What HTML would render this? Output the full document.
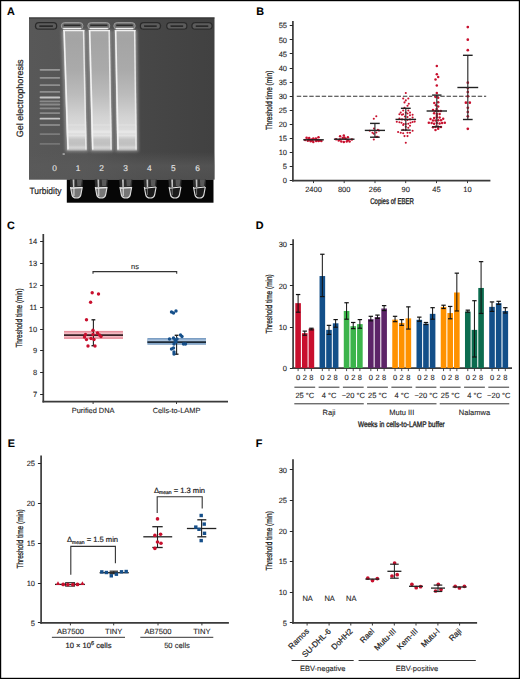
<!DOCTYPE html>
<html><head><meta charset="utf-8"><style>
html,body{margin:0;padding:0;background:#fff;}
body{width:520px;height:679px;overflow:hidden;font-family:"Liberation Sans",sans-serif;}
text{font-variant-ligatures:none;text-rendering:geometricPrecision;}
svg{display:block;}
</style></head><body>
<svg width="520" height="679" viewBox="0 0 520 679" font-family="Liberation Sans, sans-serif">
<rect x="0" y="0" width="520" height="679" fill="#fff"/>
<defs><linearGradient id="gbg" x1="0" x2="1" y1="0" y2="0"><stop offset="0" stop-color="#585858"/><stop offset="0.3" stop-color="#555"/><stop offset="0.6" stop-color="#474747"/><stop offset="1" stop-color="#414141"/></linearGradient><linearGradient id="gbot" x1="0" x2="0" y1="0" y2="1"><stop offset="0" stop-color="#5a5a5a" stop-opacity="0"/><stop offset="0.5" stop-color="#5a5a5a" stop-opacity="0.7"/><stop offset="1" stop-color="#5a5a5a" stop-opacity="0.5"/></linearGradient><linearGradient id="lane" x1="0" x2="0" y1="0" y2="1"><stop offset="0" stop-color="#a6a6a6"/><stop offset="0.08" stop-color="#a4a4a4"/><stop offset="0.33" stop-color="#aaaaaa"/><stop offset="0.54" stop-color="#bcbcbc"/><stop offset="0.73" stop-color="#d4d4d4"/><stop offset="0.79" stop-color="#d8d8d8"/><stop offset="0.85" stop-color="#e0e0e0"/><stop offset="0.88" stop-color="#dcdcdc"/><stop offset="0.91" stop-color="#c4c4c4"/><stop offset="0.945" stop-color="#c0c0c0"/><stop offset="0.98" stop-color="#cecece"/><stop offset="1" stop-color="#b0b0b0"/></linearGradient><filter id="bl1" filterUnits="userSpaceOnUse" x="0" y="0" width="520" height="679"><feGaussianBlur stdDeviation="0.6"/></filter><filter id="bl2" filterUnits="userSpaceOnUse" x="0" y="0" width="520" height="679"><feGaussianBlur stdDeviation="1.6"/></filter><filter id="bl3" filterUnits="userSpaceOnUse" x="0" y="0" width="520" height="679"><feGaussianBlur stdDeviation="0.45"/></filter></defs>
<rect x="29" y="17.5" width="185.5" height="162.1" fill="url(#gbg)"/>
<rect x="29" y="152" width="185.5" height="27.599999999999994" fill="url(#gbot)"/>
<rect x="29" y="17.5" width="185.5" height="0.9" fill="#2e2e2e"/>
<polygon points="61.7,30.0 85.9,30.0 88.3,151.4 65.7,151.4" fill="#a8a8a8" opacity="0.75" filter="url(#bl2)"/>
<polygon points="87.3,30.0 111.5,30.0 113.4,151.4 90.4,151.4" fill="#a8a8a8" opacity="0.75" filter="url(#bl2)"/>
<polygon points="113.3,30.0 137.0,30.0 138.4,151.4 115.7,151.4" fill="#a8a8a8" opacity="0.75" filter="url(#bl2)"/>
<polygon points="63.2,30.0 84.4,30.0 86.8,150.4 67.2,150.4" fill="url(#lane)" filter="url(#bl3)"/>
<line x1="64.10000000000001" y1="30.0" x2="68.10000000000001" y2="149.4" stroke="#f2f2f2" stroke-width="1.6" filter="url(#bl1)"/>
<line x1="83.5" y1="30.0" x2="85.89999999999999" y2="149.4" stroke="#e8e8e8" stroke-width="1.4" filter="url(#bl1)"/>
<line x1="63.2" y1="30.6" x2="84.4" y2="30.6" stroke="#f0f0f0" stroke-width="1.3" filter="url(#bl1)"/>
<rect x="67.356146179402" y="124.2" width="17.937541528239194" height="1.6" fill="#fff" opacity="0.15" filter="url(#bl1)"/>
<rect x="67.57541528239203" y="130.4" width="17.84983388704319" height="2.4" fill="#fff" opacity="0.22" filter="url(#bl1)"/>
<rect x="67.70830564784053" y="134.9" width="17.796677740863785" height="1.4" fill="#fff" opacity="0.18" filter="url(#bl1)"/>
<rect x="68.10365448504983" y="146.3" width="17.63853820598007" height="2.4" fill="#fff" opacity="0.12" filter="url(#bl1)"/>
<polygon points="88.8,30.0 110.0,30.0 111.9,150.4 91.9,150.4" fill="url(#lane)" filter="url(#bl3)"/>
<line x1="89.7" y1="30.0" x2="92.80000000000001" y2="149.4" stroke="#f2f2f2" stroke-width="1.6" filter="url(#bl1)"/>
<line x1="109.1" y1="30.0" x2="111.0" y2="149.4" stroke="#e8e8e8" stroke-width="1.4" filter="url(#bl1)"/>
<line x1="88.8" y1="30.6" x2="110.0" y2="30.6" stroke="#f0f0f0" stroke-width="1.3" filter="url(#bl1)"/>
<rect x="92.24601328903655" y="124.2" width="18.253156146179393" height="1.6" fill="#fff" opacity="0.15" filter="url(#bl1)"/>
<rect x="92.41594684385383" y="130.4" width="18.18737541528239" height="2.4" fill="#fff" opacity="0.22" filter="url(#bl1)"/>
<rect x="92.51893687707641" y="134.9" width="18.147508305647847" height="1.4" fill="#fff" opacity="0.18" filter="url(#bl1)"/>
<rect x="92.82533222591363" y="146.3" width="18.02890365448505" height="2.4" fill="#fff" opacity="0.12" filter="url(#bl1)"/>
<polygon points="114.8,30.0 135.5,30.0 136.9,150.4 117.2,150.4" fill="url(#lane)" filter="url(#bl3)"/>
<line x1="115.7" y1="30.0" x2="118.10000000000001" y2="149.4" stroke="#f2f2f2" stroke-width="1.6" filter="url(#bl1)"/>
<line x1="134.6" y1="30.0" x2="136.0" y2="149.4" stroke="#e8e8e8" stroke-width="1.4" filter="url(#bl1)"/>
<line x1="114.8" y1="30.6" x2="135.5" y2="30.6" stroke="#f0f0f0" stroke-width="1.3" filter="url(#bl1)"/>
<rect x="117.6936877076412" y="124.2" width="17.9109634551495" height="1.6" fill="#fff" opacity="0.15" filter="url(#bl1)"/>
<rect x="117.82524916943522" y="130.4" width="17.85614617940199" height="2.4" fill="#fff" opacity="0.22" filter="url(#bl1)"/>
<rect x="117.90498338870432" y="134.9" width="17.822923588039856" height="1.4" fill="#fff" opacity="0.18" filter="url(#bl1)"/>
<rect x="118.1421926910299" y="146.3" width="17.72408637873754" height="2.4" fill="#fff" opacity="0.12" filter="url(#bl1)"/>
<rect x="35.5" y="22.7" width="21.200000000000003" height="6.4" rx="3.4" fill="#5c5c5c" stroke="#2c2c2c" stroke-width="1.3" filter="url(#bl3)"/>
<line x1="39.3" y1="26.099999999999998" x2="52.9" y2="26.099999999999998" stroke="#222" stroke-width="1.5" filter="url(#bl3)"/>
<rect x="61.300000000000004" y="22.6" width="21.699999999999992" height="6.6000000000000005" rx="3.4" fill="#707070" stroke="#9a9a9a" stroke-width="1.0" filter="url(#bl3)"/>
<line x1="63.7" y1="25.299999999999997" x2="80.6" y2="25.299999999999997" stroke="#2a2a2a" stroke-width="1.6" filter="url(#bl3)"/>
<line x1="63.2" y1="28.5" x2="81.1" y2="28.5" stroke="#f0f0f0" stroke-width="1.3" filter="url(#bl3)"/>
<rect x="87.8" y="22.6" width="22.000000000000004" height="6.6000000000000005" rx="3.4" fill="#707070" stroke="#9a9a9a" stroke-width="1.0" filter="url(#bl3)"/>
<line x1="90.2" y1="25.299999999999997" x2="107.4" y2="25.299999999999997" stroke="#2a2a2a" stroke-width="1.6" filter="url(#bl3)"/>
<line x1="89.7" y1="28.5" x2="107.9" y2="28.5" stroke="#f0f0f0" stroke-width="1.3" filter="url(#bl3)"/>
<rect x="113.8" y="22.6" width="21.40000000000001" height="6.6000000000000005" rx="3.4" fill="#707070" stroke="#9a9a9a" stroke-width="1.0" filter="url(#bl3)"/>
<line x1="116.2" y1="25.299999999999997" x2="132.8" y2="25.299999999999997" stroke="#2a2a2a" stroke-width="1.6" filter="url(#bl3)"/>
<line x1="115.7" y1="28.5" x2="133.3" y2="28.5" stroke="#f0f0f0" stroke-width="1.3" filter="url(#bl3)"/>
<rect x="140.29999999999998" y="22.7" width="20.199999999999996" height="6.4" rx="3.4" fill="#5c5c5c" stroke="#2c2c2c" stroke-width="1.3" filter="url(#bl3)"/>
<line x1="144.1" y1="26.099999999999998" x2="156.7" y2="26.099999999999998" stroke="#222" stroke-width="1.5" filter="url(#bl3)"/>
<rect x="166.7" y="22.7" width="20.199999999999996" height="6.4" rx="3.4" fill="#5c5c5c" stroke="#2c2c2c" stroke-width="1.3" filter="url(#bl3)"/>
<line x1="170.5" y1="26.099999999999998" x2="183.1" y2="26.099999999999998" stroke="#222" stroke-width="1.5" filter="url(#bl3)"/>
<rect x="191.89999999999998" y="22.7" width="20.200000000000024" height="6.4" rx="3.4" fill="#5c5c5c" stroke="#2c2c2c" stroke-width="1.3" filter="url(#bl3)"/>
<line x1="195.7" y1="26.099999999999998" x2="208.3" y2="26.099999999999998" stroke="#222" stroke-width="1.5" filter="url(#bl3)"/>
<rect x="39.6" y="68.89999999999999" width="20.6" height="1.8" rx="0.9" fill="#fff" opacity="0.38" filter="url(#bl1)"/>
<rect x="39.6" y="76.89999999999999" width="20.6" height="1.8" rx="0.9" fill="#fff" opacity="0.35" filter="url(#bl1)"/>
<rect x="39.6" y="84.3" width="20.6" height="1.8" rx="0.9" fill="#fff" opacity="0.33" filter="url(#bl1)"/>
<rect x="39.6" y="91.0" width="20.6" height="1.8" rx="0.9" fill="#fff" opacity="0.33" filter="url(#bl1)"/>
<rect x="39.6" y="96.6" width="20.6" height="1.8" rx="0.9" fill="#fff" opacity="0.65" filter="url(#bl1)"/>
<rect x="39.6" y="100.39999999999999" width="20.6" height="1.8" rx="0.9" fill="#fff" opacity="0.3" filter="url(#bl1)"/>
<rect x="39.6" y="103.6" width="20.6" height="1.8" rx="0.9" fill="#fff" opacity="0.3" filter="url(#bl1)"/>
<rect x="39.6" y="107.39999999999999" width="20.6" height="1.8" rx="0.9" fill="#fff" opacity="0.3" filter="url(#bl1)"/>
<rect x="39.6" y="112.19999999999999" width="20.6" height="1.8" rx="0.9" fill="#fff" opacity="0.3" filter="url(#bl1)"/>
<rect x="39.6" y="117.8" width="20.6" height="1.8" rx="0.9" fill="#fff" opacity="0.65" filter="url(#bl1)"/>
<rect x="39.6" y="124.1" width="20.6" height="1.8" rx="0.9" fill="#fff" opacity="0.28" filter="url(#bl1)"/>
<rect x="39.6" y="133.2" width="20.6" height="1.8" rx="0.9" fill="#fff" opacity="0.22" filter="url(#bl1)"/>
<rect x="39.6" y="143.0" width="20.6" height="1.8" rx="0.9" fill="#fff" opacity="0.18" filter="url(#bl1)"/>
<rect x="62.6" y="153.4" width="2.2" height="1.3" fill="#ddd" opacity="0.8"/>
<text x="54.50" y="170.50" font-size="8.3" text-anchor="middle" fill="#e8e8e8" stroke="#e8e8e8" stroke-width="0.1" font-weight="normal" >0</text>
<text x="78.10" y="170.50" font-size="8.3" text-anchor="middle" fill="#e8e8e8" stroke="#e8e8e8" stroke-width="0.1" font-weight="normal" >1</text>
<text x="101.60" y="170.50" font-size="8.3" text-anchor="middle" fill="#e8e8e8" stroke="#e8e8e8" stroke-width="0.1" font-weight="normal" >2</text>
<text x="125.50" y="170.50" font-size="8.3" text-anchor="middle" fill="#e8e8e8" stroke="#e8e8e8" stroke-width="0.1" font-weight="normal" >3</text>
<text x="149.40" y="170.50" font-size="8.3" text-anchor="middle" fill="#e8e8e8" stroke="#e8e8e8" stroke-width="0.1" font-weight="normal" >4</text>
<text x="173.30" y="170.50" font-size="8.3" text-anchor="middle" fill="#e8e8e8" stroke="#e8e8e8" stroke-width="0.1" font-weight="normal" >5</text>
<text x="197.50" y="170.50" font-size="8.3" text-anchor="middle" fill="#e8e8e8" stroke="#e8e8e8" stroke-width="0.1" font-weight="normal" >6</text>
<rect x="66.8" y="179.6" width="146.7" height="23.1" fill="#060606"/>
<polygon points="69.80000000000001,179.6 83.0,179.6 82.4,187.5 70.4,187.5" fill="#2e2e2e" filter="url(#bl3)"/>
<polygon points="72.60000000000001,179.6 74.4,179.6 74.4,187.5 73.0,187.5" fill="#e6e6e6" opacity="0.8" filter="url(#bl3)"/>
<polygon points="76.9,179.6 81.9,179.6 80.9,186 77.4,186" fill="#777" opacity="0.6" filter="url(#bl3)"/>
<path d="M70.5,187.0 L72.0,195.0 Q72.80000000000001,198.0 76.4,198.0 Q80.0,198.0 80.80000000000001,195.0 L82.30000000000001,187.0 Z" fill="#767676" filter="url(#bl3)"/>
<path d="M70.5,187.0 L72.0,195.0 Q72.80000000000001,198.0 76.4,198.0 Q80.0,198.0 80.80000000000001,195.0 L82.30000000000001,187.0" fill="none" stroke="#dcdcdc" stroke-width="1.15" filter="url(#bl3)"/>
<line x1="70.80000000000001" y1="188.2" x2="82.0" y2="187.6" stroke="#f4f4f4" stroke-width="1.2" filter="url(#bl3)"/>
<rect x="73.2" y="188" width="1.4" height="8" fill="#e4e4e4" opacity="0.7" filter="url(#bl3)"/>
<polygon points="94.60000000000001,179.6 107.8,179.6 107.2,187.5 95.2,187.5" fill="#2e2e2e" filter="url(#bl3)"/>
<polygon points="97.4,179.6 99.2,179.6 99.2,187.5 97.8,187.5" fill="#e6e6e6" opacity="0.8" filter="url(#bl3)"/>
<polygon points="101.7,179.6 106.7,179.6 105.7,186 102.2,186" fill="#777" opacity="0.6" filter="url(#bl3)"/>
<path d="M95.3,187.0 L96.8,195.0 Q97.60000000000001,198.0 101.2,198.0 Q104.8,198.0 105.60000000000001,195.0 L107.10000000000001,187.0 Z" fill="#767676" filter="url(#bl3)"/>
<path d="M95.3,187.0 L96.8,195.0 Q97.60000000000001,198.0 101.2,198.0 Q104.8,198.0 105.60000000000001,195.0 L107.10000000000001,187.0" fill="none" stroke="#dcdcdc" stroke-width="1.15" filter="url(#bl3)"/>
<line x1="95.60000000000001" y1="188.2" x2="106.8" y2="187.6" stroke="#f4f4f4" stroke-width="1.2" filter="url(#bl3)"/>
<rect x="98.0" y="188" width="1.4" height="8" fill="#e4e4e4" opacity="0.7" filter="url(#bl3)"/>
<polygon points="119.2,179.6 132.4,179.6 131.8,187.5 119.8,187.5" fill="#2e2e2e" filter="url(#bl3)"/>
<polygon points="122.0,179.6 123.8,179.6 123.8,187.5 122.39999999999999,187.5" fill="#e6e6e6" opacity="0.8" filter="url(#bl3)"/>
<polygon points="126.3,179.6 131.3,179.6 130.3,186 126.8,186" fill="#777" opacity="0.6" filter="url(#bl3)"/>
<path d="M119.89999999999999,187.0 L121.39999999999999,195.0 Q122.2,198.0 125.8,198.0 Q129.4,198.0 130.2,195.0 L131.7,187.0 Z" fill="#767676" filter="url(#bl3)"/>
<path d="M119.89999999999999,187.0 L121.39999999999999,195.0 Q122.2,198.0 125.8,198.0 Q129.4,198.0 130.2,195.0 L131.7,187.0" fill="none" stroke="#dcdcdc" stroke-width="1.15" filter="url(#bl3)"/>
<line x1="120.2" y1="188.2" x2="131.4" y2="187.6" stroke="#f4f4f4" stroke-width="1.2" filter="url(#bl3)"/>
<rect x="122.6" y="188" width="1.4" height="8" fill="#e4e4e4" opacity="0.7" filter="url(#bl3)"/>
<polygon points="143.6,179.6 156.79999999999998,179.6 156.2,187.5 144.2,187.5" fill="#2e2e2e" filter="url(#bl3)"/>
<polygon points="146.39999999999998,179.6 148.2,179.6 148.2,187.5 146.79999999999998,187.5" fill="#e6e6e6" opacity="0.8" filter="url(#bl3)"/>
<polygon points="150.7,179.6 155.7,179.6 154.7,186 151.2,186" fill="#777" opacity="0.6" filter="url(#bl3)"/>
<path d="M144.29999999999998,187.0 L145.79999999999998,195.0 Q146.6,198.0 150.2,198.0 Q153.79999999999998,198.0 154.6,195.0 L156.1,187.0 Z" fill="#1c1c1c" filter="url(#bl3)"/>
<path d="M144.29999999999998,187.0 L145.79999999999998,195.0 Q146.6,198.0 150.2,198.0 Q153.79999999999998,198.0 154.6,195.0 L156.1,187.0" fill="none" stroke="#dcdcdc" stroke-width="1.15" filter="url(#bl3)"/>
<line x1="144.6" y1="188.2" x2="155.79999999999998" y2="187.0" stroke="#eee" stroke-width="1.1" filter="url(#bl3)"/>
<rect x="146.89999999999998" y="188" width="1.0" height="7" fill="#bbb" opacity="0.55" filter="url(#bl3)"/>
<polygon points="168.4,179.6 181.6,179.6 181.0,187.5 169.0,187.5" fill="#2e2e2e" filter="url(#bl3)"/>
<polygon points="171.2,179.6 173.0,179.6 173.0,187.5 171.6,187.5" fill="#e6e6e6" opacity="0.8" filter="url(#bl3)"/>
<polygon points="175.5,179.6 180.5,179.6 179.5,186 176.0,186" fill="#777" opacity="0.6" filter="url(#bl3)"/>
<path d="M169.1,187.0 L170.6,195.0 Q171.4,198.0 175.0,198.0 Q178.6,198.0 179.4,195.0 L180.9,187.0 Z" fill="#1c1c1c" filter="url(#bl3)"/>
<path d="M169.1,187.0 L170.6,195.0 Q171.4,198.0 175.0,198.0 Q178.6,198.0 179.4,195.0 L180.9,187.0" fill="none" stroke="#dcdcdc" stroke-width="1.15" filter="url(#bl3)"/>
<line x1="169.4" y1="188.2" x2="180.6" y2="187.0" stroke="#eee" stroke-width="1.1" filter="url(#bl3)"/>
<rect x="171.7" y="188" width="1.0" height="7" fill="#bbb" opacity="0.55" filter="url(#bl3)"/>
<polygon points="192.8,179.6 206.0,179.6 205.4,187.5 193.4,187.5" fill="#2e2e2e" filter="url(#bl3)"/>
<polygon points="195.6,179.6 197.4,179.6 197.4,187.5 196.0,187.5" fill="#e6e6e6" opacity="0.8" filter="url(#bl3)"/>
<polygon points="199.9,179.6 204.9,179.6 203.9,186 200.4,186" fill="#777" opacity="0.6" filter="url(#bl3)"/>
<path d="M193.5,187.0 L195.0,195.0 Q195.8,198.0 199.4,198.0 Q203.0,198.0 203.8,195.0 L205.3,187.0 Z" fill="#1c1c1c" filter="url(#bl3)"/>
<path d="M193.5,187.0 L195.0,195.0 Q195.8,198.0 199.4,198.0 Q203.0,198.0 203.8,195.0 L205.3,187.0" fill="none" stroke="#dcdcdc" stroke-width="1.15" filter="url(#bl3)"/>
<line x1="193.8" y1="188.2" x2="205.0" y2="187.0" stroke="#eee" stroke-width="1.1" filter="url(#bl3)"/>
<rect x="196.1" y="188" width="1.0" height="7" fill="#bbb" opacity="0.55" filter="url(#bl3)"/>
<text x="29.4" y="193.6" font-size="9.2" fill="#222" stroke="#222" stroke-width="0.2" textLength="32.1" lengthAdjust="spacingAndGlyphs">Turbidity</text>
<g transform="translate(22.7,98.4) rotate(-90)"><text x="0" y="0" font-size="9.2" text-anchor="middle" fill="#222" stroke="#222" stroke-width="0.2" textLength="77.6" lengthAdjust="spacingAndGlyphs">Gel electrophoresis</text></g>
<line x1="292.90" y1="20.90" x2="292.90" y2="181.45" stroke="#3a3a3a" stroke-width="1.7" />
<line x1="289.70" y1="180.50" x2="292.90" y2="180.50" stroke="#262626" stroke-width="1.05" />
<text x="287.00" y="183.20" font-size="7.5" text-anchor="end" fill="#222" stroke="#222" stroke-width="0.1" font-weight="normal" >0</text>
<line x1="289.70" y1="166.50" x2="292.90" y2="166.50" stroke="#262626" stroke-width="1.05" />
<text x="287.00" y="169.13" font-size="7.5" text-anchor="end" fill="#222" stroke="#222" stroke-width="0.1" font-weight="normal" >5</text>
<line x1="289.70" y1="152.50" x2="292.90" y2="152.50" stroke="#262626" stroke-width="1.05" />
<text x="287.00" y="155.06" font-size="7.5" text-anchor="end" fill="#222" stroke="#222" stroke-width="0.1" font-weight="normal" >10</text>
<line x1="289.70" y1="138.50" x2="292.90" y2="138.50" stroke="#262626" stroke-width="1.05" />
<text x="287.00" y="140.99" font-size="7.5" text-anchor="end" fill="#222" stroke="#222" stroke-width="0.1" font-weight="normal" >15</text>
<line x1="289.70" y1="124.50" x2="292.90" y2="124.50" stroke="#262626" stroke-width="1.05" />
<text x="287.00" y="126.92" font-size="7.5" text-anchor="end" fill="#222" stroke="#222" stroke-width="0.1" font-weight="normal" >20</text>
<line x1="289.70" y1="110.50" x2="292.90" y2="110.50" stroke="#262626" stroke-width="1.05" />
<text x="287.00" y="112.85" font-size="7.5" text-anchor="end" fill="#222" stroke="#222" stroke-width="0.1" font-weight="normal" >25</text>
<line x1="289.70" y1="96.50" x2="292.90" y2="96.50" stroke="#262626" stroke-width="1.05" />
<text x="287.00" y="98.78" font-size="7.5" text-anchor="end" fill="#222" stroke="#222" stroke-width="0.1" font-weight="normal" >30</text>
<line x1="289.70" y1="82.50" x2="292.90" y2="82.50" stroke="#262626" stroke-width="1.05" />
<text x="287.00" y="84.71" font-size="7.5" text-anchor="end" fill="#222" stroke="#222" stroke-width="0.1" font-weight="normal" >35</text>
<line x1="289.70" y1="68.50" x2="292.90" y2="68.50" stroke="#262626" stroke-width="1.05" />
<text x="287.00" y="70.64" font-size="7.5" text-anchor="end" fill="#222" stroke="#222" stroke-width="0.1" font-weight="normal" >40</text>
<line x1="289.70" y1="53.50" x2="292.90" y2="53.50" stroke="#262626" stroke-width="1.05" />
<text x="287.00" y="56.57" font-size="7.5" text-anchor="end" fill="#222" stroke="#222" stroke-width="0.1" font-weight="normal" >45</text>
<line x1="289.70" y1="39.50" x2="292.90" y2="39.50" stroke="#262626" stroke-width="1.05" />
<text x="287.00" y="42.50" font-size="7.5" text-anchor="end" fill="#222" stroke="#222" stroke-width="0.1" font-weight="normal" >50</text>
<line x1="289.70" y1="25.50" x2="292.90" y2="25.50" stroke="#262626" stroke-width="1.05" />
<text x="287.00" y="28.43" font-size="7.5" text-anchor="end" fill="#222" stroke="#222" stroke-width="0.1" font-weight="normal" >55</text>
<line x1="292.10" y1="180.60" x2="490.40" y2="180.60" stroke="#3a3a3a" stroke-width="1.7" />
<line x1="313.50" y1="180.60" x2="313.50" y2="183.10" stroke="#3a3a3a" stroke-width="1" />
<text x="313.50" y="191.80" font-size="7.5" text-anchor="middle" fill="#222" stroke="#222" stroke-width="0.1" font-weight="normal" >2400</text>
<line x1="344.20" y1="180.60" x2="344.20" y2="183.10" stroke="#3a3a3a" stroke-width="1" />
<text x="344.20" y="191.80" font-size="7.5" text-anchor="middle" fill="#222" stroke="#222" stroke-width="0.1" font-weight="normal" >800</text>
<line x1="375.00" y1="180.60" x2="375.00" y2="183.10" stroke="#3a3a3a" stroke-width="1" />
<text x="375.00" y="191.80" font-size="7.5" text-anchor="middle" fill="#222" stroke="#222" stroke-width="0.1" font-weight="normal" >266</text>
<line x1="405.70" y1="180.60" x2="405.70" y2="183.10" stroke="#3a3a3a" stroke-width="1" />
<text x="405.70" y="191.80" font-size="7.5" text-anchor="middle" fill="#222" stroke="#222" stroke-width="0.1" font-weight="normal" >90</text>
<line x1="436.50" y1="180.60" x2="436.50" y2="183.10" stroke="#3a3a3a" stroke-width="1" />
<text x="436.50" y="191.80" font-size="7.5" text-anchor="middle" fill="#222" stroke="#222" stroke-width="0.1" font-weight="normal" >45</text>
<line x1="467.50" y1="180.60" x2="467.50" y2="183.10" stroke="#3a3a3a" stroke-width="1" />
<text x="467.50" y="191.80" font-size="7.5" text-anchor="middle" fill="#222" stroke="#222" stroke-width="0.1" font-weight="normal" >10</text>
<g transform="translate(392.00,203.80) scale(0.0720,0.1)"><text x="0" y="0" font-size="84.0" text-anchor="middle" fill="#222" stroke="#222" stroke-width="3.2">Copies of EBER</text></g>
<g transform="translate(269.10,100.30) rotate(-90) scale(0.0725,0.1)"><text x="0" y="0" font-size="89.0" text-anchor="middle" fill="#222" stroke="#222" stroke-width="2.8" dominant-baseline="central">Threshold time (min)</text></g>
<line x1="296.8" y1="96.25" x2="486.2" y2="96.25" stroke="#333" stroke-width="1.2" stroke-dasharray="4.4,1.84"/>
<circle cx="306.6" cy="137.8" r="1.25" fill="#c8102e"/>
<circle cx="309.2" cy="138.1" r="1.25" fill="#c8102e"/>
<circle cx="313.3" cy="138.4" r="1.25" fill="#c8102e"/>
<circle cx="315.9" cy="138.5" r="1.25" fill="#c8102e"/>
<circle cx="318.5" cy="137.2" r="1.25" fill="#c8102e"/>
<circle cx="305.2" cy="140.1" r="1.25" fill="#c8102e"/>
<circle cx="307.8" cy="140.7" r="1.25" fill="#c8102e"/>
<circle cx="310.7" cy="141.3" r="1.25" fill="#c8102e"/>
<circle cx="313.3" cy="142.1" r="1.25" fill="#c8102e"/>
<circle cx="316.2" cy="141.0" r="1.25" fill="#c8102e"/>
<circle cx="318.5" cy="141.1" r="1.25" fill="#c8102e"/>
<circle cx="321.4" cy="141.0" r="1.25" fill="#c8102e"/>
<circle cx="315.3" cy="139.5" r="1.25" fill="#c8102e"/>
<circle cx="311.5" cy="139.5" r="1.25" fill="#c8102e"/>
<circle cx="308.4" cy="139.2" r="1.25" fill="#c8102e"/>
<circle cx="312.4" cy="140.6" r="1.25" fill="#c8102e"/>
<circle cx="317.2" cy="139.9" r="1.25" fill="#c8102e"/>
<circle cx="319.8" cy="140.4" r="1.25" fill="#c8102e"/>
<circle cx="309.8" cy="139.8" r="1.25" fill="#c8102e"/>
<line x1="303.20" y1="139.80" x2="323.80" y2="139.80" stroke="#222" stroke-width="1.4" />
<circle cx="340.1" cy="136.3" r="1.25" fill="#c8102e"/>
<circle cx="343.8" cy="135.5" r="1.25" fill="#c8102e"/>
<circle cx="347.9" cy="137.2" r="1.25" fill="#c8102e"/>
<circle cx="342.7" cy="138.1" r="1.25" fill="#c8102e"/>
<circle cx="345.6" cy="138.7" r="1.25" fill="#c8102e"/>
<circle cx="336.1" cy="139.2" r="1.25" fill="#c8102e"/>
<circle cx="351.9" cy="139.5" r="1.25" fill="#c8102e"/>
<circle cx="338.7" cy="140.4" r="1.25" fill="#c8102e"/>
<circle cx="341.3" cy="141.5" r="1.25" fill="#c8102e"/>
<circle cx="343.8" cy="142.1" r="1.25" fill="#c8102e"/>
<circle cx="346.7" cy="141.5" r="1.25" fill="#c8102e"/>
<circle cx="349.6" cy="141.5" r="1.25" fill="#c8102e"/>
<circle cx="344.4" cy="137.5" r="1.25" fill="#c8102e"/>
<circle cx="340.0" cy="139.6" r="1.25" fill="#c8102e"/>
<circle cx="347.8" cy="140.2" r="1.25" fill="#c8102e"/>
<line x1="333.90" y1="139.20" x2="354.50" y2="139.20" stroke="#222" stroke-width="1.4" />
<circle cx="376.3" cy="116.3" r="1.05" fill="#c8102e"/>
<circle cx="373.8" cy="118.7" r="1.05" fill="#c8102e"/>
<circle cx="374" cy="128.6" r="1.05" fill="#c8102e"/>
<circle cx="369.8" cy="130.8" r="1.05" fill="#c8102e"/>
<circle cx="377.9" cy="129.8" r="1.05" fill="#c8102e"/>
<circle cx="379" cy="130.6" r="1.05" fill="#c8102e"/>
<circle cx="372.5" cy="132.7" r="1.05" fill="#c8102e"/>
<circle cx="373.8" cy="133.8" r="1.05" fill="#c8102e"/>
<circle cx="376.3" cy="132.5" r="1.05" fill="#c8102e"/>
<circle cx="376.3" cy="136.9" r="1.05" fill="#c8102e"/>
<circle cx="377.6" cy="136.7" r="1.05" fill="#c8102e"/>
<circle cx="373.8" cy="139.5" r="1.05" fill="#c8102e"/>
<line x1="364.80" y1="130.40" x2="385.00" y2="130.40" stroke="#222" stroke-width="1.4" />
<line x1="374.90" y1="123.40" x2="374.90" y2="137.20" stroke="#333" stroke-width="1.2" />
<line x1="370.05" y1="123.40" x2="379.75" y2="123.40" stroke="#222" stroke-width="1.4" />
<line x1="370.05" y1="137.20" x2="379.75" y2="137.20" stroke="#222" stroke-width="1.4" />
<circle cx="405.8" cy="93" r="1.05" fill="#c8102e"/>
<circle cx="403.2" cy="98.5" r="1.05" fill="#c8102e"/>
<circle cx="408.3" cy="98.5" r="1.05" fill="#c8102e"/>
<circle cx="405.8" cy="100.4" r="1.05" fill="#c8102e"/>
<circle cx="404.5" cy="102.4" r="1.05" fill="#c8102e"/>
<circle cx="408.8" cy="103.7" r="1.05" fill="#c8102e"/>
<circle cx="407.5" cy="105.8" r="1.05" fill="#c8102e"/>
<circle cx="404.5" cy="107.9" r="1.05" fill="#c8102e"/>
<circle cx="403.2" cy="110.5" r="1.05" fill="#c8102e"/>
<circle cx="408.3" cy="110.5" r="1.05" fill="#c8102e"/>
<circle cx="400.7" cy="112.6" r="1.05" fill="#c8102e"/>
<circle cx="405.8" cy="112.6" r="1.05" fill="#c8102e"/>
<circle cx="410" cy="112.6" r="1.05" fill="#c8102e"/>
<circle cx="399.4" cy="114.3" r="1.05" fill="#c8102e"/>
<circle cx="402" cy="114.7" r="1.05" fill="#c8102e"/>
<circle cx="403.2" cy="114.3" r="1.05" fill="#c8102e"/>
<circle cx="407.5" cy="113.5" r="1.05" fill="#c8102e"/>
<circle cx="410" cy="115.2" r="1.05" fill="#c8102e"/>
<circle cx="412.6" cy="114.7" r="1.05" fill="#c8102e"/>
<circle cx="404.9" cy="116.5" r="1.05" fill="#c8102e"/>
<circle cx="407.5" cy="117.1" r="1.05" fill="#c8102e"/>
<circle cx="412.6" cy="117.5" r="1.05" fill="#c8102e"/>
<circle cx="399.4" cy="118.6" r="1.05" fill="#c8102e"/>
<circle cx="402" cy="119.4" r="1.05" fill="#c8102e"/>
<circle cx="404.9" cy="119.7" r="1.05" fill="#c8102e"/>
<circle cx="407.5" cy="120" r="1.05" fill="#c8102e"/>
<circle cx="410" cy="119.4" r="1.05" fill="#c8102e"/>
<circle cx="396.8" cy="121.7" r="1.05" fill="#c8102e"/>
<circle cx="399.4" cy="122.3" r="1.05" fill="#c8102e"/>
<circle cx="401.5" cy="122.8" r="1.05" fill="#c8102e"/>
<circle cx="403.7" cy="124.1" r="1.05" fill="#c8102e"/>
<circle cx="405.8" cy="124" r="1.05" fill="#c8102e"/>
<circle cx="408.3" cy="123.7" r="1.05" fill="#c8102e"/>
<circle cx="410.5" cy="122.8" r="1.05" fill="#c8102e"/>
<circle cx="412.6" cy="122" r="1.05" fill="#c8102e"/>
<circle cx="414.7" cy="121.6" r="1.05" fill="#c8102e"/>
<circle cx="403.2" cy="125" r="1.05" fill="#c8102e"/>
<circle cx="405.8" cy="126.7" r="1.05" fill="#c8102e"/>
<circle cx="410" cy="125.8" r="1.05" fill="#c8102e"/>
<circle cx="408.3" cy="127.7" r="1.05" fill="#c8102e"/>
<circle cx="403.2" cy="129.7" r="1.05" fill="#c8102e"/>
<circle cx="405.8" cy="130.1" r="1.05" fill="#c8102e"/>
<circle cx="412.6" cy="130.8" r="1.05" fill="#c8102e"/>
<circle cx="398.1" cy="132" r="1.05" fill="#c8102e"/>
<circle cx="400.7" cy="132.7" r="1.05" fill="#c8102e"/>
<circle cx="403.2" cy="133.3" r="1.05" fill="#c8102e"/>
<circle cx="407.5" cy="132.7" r="1.05" fill="#c8102e"/>
<circle cx="410" cy="132.7" r="1.05" fill="#c8102e"/>
<circle cx="404.5" cy="136.1" r="1.05" fill="#c8102e"/>
<circle cx="407.5" cy="136.1" r="1.05" fill="#c8102e"/>
<circle cx="405.8" cy="142.7" r="1.05" fill="#c8102e"/>
<line x1="395.50" y1="119.40" x2="416.10" y2="119.40" stroke="#222" stroke-width="1.4" />
<line x1="405.80" y1="108.30" x2="405.80" y2="130.10" stroke="#333" stroke-width="1.2" />
<line x1="400.90" y1="108.30" x2="410.70" y2="108.30" stroke="#222" stroke-width="1.4" />
<line x1="400.90" y1="130.10" x2="410.70" y2="130.10" stroke="#222" stroke-width="1.4" />
<circle cx="436.8" cy="66.1" r="1.25" fill="#c8102e"/>
<circle cx="436.8" cy="74.3" r="1.25" fill="#c8102e"/>
<circle cx="438.2" cy="77.1" r="1.25" fill="#c8102e"/>
<circle cx="435.5" cy="79.6" r="1.25" fill="#c8102e"/>
<circle cx="436.8" cy="85.6" r="1.25" fill="#c8102e"/>
<circle cx="436.8" cy="93.1" r="1.25" fill="#c8102e"/>
<circle cx="435.5" cy="97" r="1.25" fill="#c8102e"/>
<circle cx="438.2" cy="97.7" r="1.25" fill="#c8102e"/>
<circle cx="434.3" cy="103" r="1.25" fill="#c8102e"/>
<circle cx="438.2" cy="102.2" r="1.25" fill="#c8102e"/>
<circle cx="436" cy="105.3" r="1.25" fill="#c8102e"/>
<circle cx="438.2" cy="106.4" r="1.25" fill="#c8102e"/>
<circle cx="436.6" cy="109.1" r="1.25" fill="#c8102e"/>
<circle cx="433" cy="109.9" r="1.25" fill="#c8102e"/>
<circle cx="435.5" cy="111" r="1.25" fill="#c8102e"/>
<circle cx="438.2" cy="111" r="1.25" fill="#c8102e"/>
<circle cx="440.8" cy="111" r="1.25" fill="#c8102e"/>
<circle cx="434.1" cy="113.2" r="1.25" fill="#c8102e"/>
<circle cx="436.8" cy="114.1" r="1.25" fill="#c8102e"/>
<circle cx="439.6" cy="114.1" r="1.25" fill="#c8102e"/>
<circle cx="436.8" cy="116.1" r="1.25" fill="#c8102e"/>
<circle cx="434.1" cy="118" r="1.25" fill="#c8102e"/>
<circle cx="436.8" cy="117.6" r="1.25" fill="#c8102e"/>
<circle cx="439.6" cy="117.6" r="1.25" fill="#c8102e"/>
<circle cx="430.5" cy="119" r="1.25" fill="#c8102e"/>
<circle cx="443.2" cy="118.7" r="1.25" fill="#c8102e"/>
<circle cx="433" cy="120.5" r="1.25" fill="#c8102e"/>
<circle cx="435.5" cy="120.5" r="1.25" fill="#c8102e"/>
<circle cx="438.2" cy="120.2" r="1.25" fill="#c8102e"/>
<circle cx="441" cy="120.2" r="1.25" fill="#c8102e"/>
<circle cx="428.8" cy="122.7" r="1.25" fill="#c8102e"/>
<circle cx="431.6" cy="123.1" r="1.25" fill="#c8102e"/>
<circle cx="434.1" cy="123.8" r="1.25" fill="#c8102e"/>
<circle cx="436.8" cy="123.1" r="1.25" fill="#c8102e"/>
<circle cx="439.6" cy="123.5" r="1.25" fill="#c8102e"/>
<circle cx="442.1" cy="122.9" r="1.25" fill="#c8102e"/>
<circle cx="444.8" cy="122.7" r="1.25" fill="#c8102e"/>
<circle cx="433" cy="127.3" r="1.25" fill="#c8102e"/>
<circle cx="435.5" cy="126.8" r="1.25" fill="#c8102e"/>
<circle cx="438.2" cy="126.8" r="1.25" fill="#c8102e"/>
<circle cx="441" cy="127.1" r="1.25" fill="#c8102e"/>
<circle cx="435.5" cy="130.1" r="1.25" fill="#c8102e"/>
<circle cx="438.2" cy="128.7" r="1.25" fill="#c8102e"/>
<line x1="426.60" y1="111.00" x2="447.00" y2="111.00" stroke="#222" stroke-width="1.4" />
<line x1="436.80" y1="95.10" x2="436.80" y2="126.80" stroke="#333" stroke-width="1.2" />
<line x1="432.10" y1="95.10" x2="441.50" y2="95.10" stroke="#222" stroke-width="1.4" />
<line x1="432.10" y1="126.80" x2="441.50" y2="126.80" stroke="#222" stroke-width="1.4" />
<circle cx="467.8" cy="27.1" r="1.35" fill="#c8102e"/>
<circle cx="467.8" cy="39.7" r="1.35" fill="#c8102e"/>
<circle cx="467.8" cy="50.2" r="1.35" fill="#c8102e"/>
<circle cx="467.8" cy="82.7" r="1.35" fill="#c8102e"/>
<circle cx="467.8" cy="88.1" r="1.35" fill="#c8102e"/>
<circle cx="467.8" cy="92" r="1.35" fill="#c8102e"/>
<circle cx="467.8" cy="96.3" r="1.35" fill="#c8102e"/>
<circle cx="465.9" cy="102.7" r="1.35" fill="#c8102e"/>
<circle cx="469.8" cy="102.7" r="1.35" fill="#c8102e"/>
<circle cx="467.8" cy="107.8" r="1.35" fill="#c8102e"/>
<circle cx="467.8" cy="112" r="1.35" fill="#c8102e"/>
<circle cx="467.8" cy="116.3" r="1.35" fill="#c8102e"/>
<circle cx="467.8" cy="128.8" r="1.35" fill="#c8102e"/>
<line x1="457.40" y1="87.50" x2="478.20" y2="87.50" stroke="#222" stroke-width="1.4" />
<line x1="467.80" y1="55.30" x2="467.80" y2="119.50" stroke="#333" stroke-width="1.2" />
<line x1="462.95" y1="55.30" x2="472.65" y2="55.30" stroke="#222" stroke-width="1.4" />
<line x1="462.95" y1="119.50" x2="472.65" y2="119.50" stroke="#222" stroke-width="1.4" />
<line x1="43.30" y1="234.00" x2="43.30" y2="402.45" stroke="#3a3a3a" stroke-width="1.7" />
<line x1="40.10" y1="394.50" x2="43.30" y2="394.50" stroke="#262626" stroke-width="1.05" />
<text x="37.20" y="397.00" font-size="7.5" text-anchor="end" fill="#222" stroke="#222" stroke-width="0.1" font-weight="normal" >7</text>
<line x1="40.10" y1="372.50" x2="43.30" y2="372.50" stroke="#262626" stroke-width="1.05" />
<text x="37.20" y="375.20" font-size="7.5" text-anchor="end" fill="#222" stroke="#222" stroke-width="0.1" font-weight="normal" >8</text>
<line x1="40.10" y1="350.50" x2="43.30" y2="350.50" stroke="#262626" stroke-width="1.05" />
<text x="37.20" y="353.40" font-size="7.5" text-anchor="end" fill="#222" stroke="#222" stroke-width="0.1" font-weight="normal" >9</text>
<line x1="40.10" y1="329.50" x2="43.30" y2="329.50" stroke="#262626" stroke-width="1.05" />
<text x="37.20" y="331.60" font-size="7.5" text-anchor="end" fill="#222" stroke="#222" stroke-width="0.1" font-weight="normal" >10</text>
<line x1="40.10" y1="307.50" x2="43.30" y2="307.50" stroke="#262626" stroke-width="1.05" />
<text x="37.20" y="309.80" font-size="7.5" text-anchor="end" fill="#222" stroke="#222" stroke-width="0.1" font-weight="normal" >11</text>
<line x1="40.10" y1="285.50" x2="43.30" y2="285.50" stroke="#262626" stroke-width="1.05" />
<text x="37.20" y="288.00" font-size="7.5" text-anchor="end" fill="#222" stroke="#222" stroke-width="0.1" font-weight="normal" >12</text>
<line x1="40.10" y1="263.50" x2="43.30" y2="263.50" stroke="#262626" stroke-width="1.05" />
<text x="37.20" y="266.20" font-size="7.5" text-anchor="end" fill="#222" stroke="#222" stroke-width="0.1" font-weight="normal" >13</text>
<line x1="40.10" y1="241.50" x2="43.30" y2="241.50" stroke="#262626" stroke-width="1.05" />
<text x="37.20" y="244.40" font-size="7.5" text-anchor="end" fill="#222" stroke="#222" stroke-width="0.1" font-weight="normal" >14</text>
<line x1="42.50" y1="401.60" x2="228.00" y2="401.60" stroke="#3a3a3a" stroke-width="1.7" />
<line x1="93.10" y1="401.60" x2="93.10" y2="404.00" stroke="#3a3a3a" stroke-width="1" />
<text x="93.10" y="413.00" font-size="7.4" text-anchor="middle" fill="#222" stroke="#222" stroke-width="0.1" font-weight="normal" >Purified DNA</text>
<line x1="176.50" y1="401.60" x2="176.50" y2="404.00" stroke="#3a3a3a" stroke-width="1" />
<text x="176.50" y="413.00" font-size="7.4" text-anchor="middle" fill="#222" stroke="#222" stroke-width="0.1" font-weight="normal" >Cells-to-LAMP</text>
<g transform="translate(19.00,318.00) rotate(-90) scale(0.0725,0.1)"><text x="0" y="0" font-size="89.0" text-anchor="middle" fill="#222" stroke="#222" stroke-width="2.8" dominant-baseline="central">Threshold time (min)</text></g>
<rect x="64" y="330.9" width="59" height="8" fill="#e8909d"/>
<rect x="64" y="332.4" width="59" height="5" fill="#f2b9c2"/>
<rect x="147.4" y="338.1" width="58.6" height="6.6" fill="#6e94bd"/>
<rect x="147.4" y="339.4" width="58.6" height="4.0" fill="#a9c2dc"/>
<line x1="64.00" y1="335.10" x2="123.00" y2="335.10" stroke="#3a2226" stroke-width="1.8" />
<line x1="147.40" y1="342.10" x2="206.00" y2="342.10" stroke="#1d2a38" stroke-width="1.8" />
<line x1="93.40" y1="319.80" x2="93.40" y2="345.70" stroke="#222" stroke-width="1.1" />
<line x1="91.50" y1="319.80" x2="95.30" y2="319.80" stroke="#222" stroke-width="1.4" />
<line x1="91.50" y1="345.70" x2="95.30" y2="345.70" stroke="#222" stroke-width="1.4" />
<line x1="176.60" y1="335.30" x2="176.60" y2="354.20" stroke="#222" stroke-width="1.1" />
<line x1="174.70" y1="335.30" x2="178.50" y2="335.30" stroke="#222" stroke-width="1.4" />
<line x1="174.70" y1="354.20" x2="178.50" y2="354.20" stroke="#222" stroke-width="1.4" />
<circle cx="92.2" cy="292.8" r="1.7" fill="#c8102e"/>
<circle cx="98.5" cy="294" r="1.7" fill="#c8102e"/>
<circle cx="90.6" cy="302.3" r="1.7" fill="#c8102e"/>
<circle cx="86.5" cy="319.8" r="1.7" fill="#c8102e"/>
<circle cx="93" cy="330.2" r="1.7" fill="#c8102e"/>
<circle cx="85.5" cy="334.5" r="1.7" fill="#c8102e"/>
<circle cx="93" cy="334.5" r="1.7" fill="#c8102e"/>
<circle cx="97.5" cy="333" r="1.7" fill="#c8102e"/>
<circle cx="99.5" cy="335" r="1.7" fill="#c8102e"/>
<circle cx="101" cy="336.6" r="1.7" fill="#c8102e"/>
<circle cx="86.5" cy="339.6" r="1.7" fill="#c8102e"/>
<circle cx="91" cy="338.5" r="1.7" fill="#c8102e"/>
<circle cx="94" cy="339.5" r="1.7" fill="#c8102e"/>
<circle cx="88" cy="346" r="1.7" fill="#c8102e"/>
<circle cx="95" cy="346" r="1.7" fill="#c8102e"/>
<circle cx="84.5" cy="337" r="1.7" fill="#c8102e"/>
<circle cx="171.5" cy="312" r="1.7" fill="#154f8a"/>
<circle cx="173.5" cy="313" r="1.7" fill="#154f8a"/>
<circle cx="176" cy="311" r="1.7" fill="#154f8a"/>
<circle cx="180.5" cy="335" r="1.7" fill="#154f8a"/>
<circle cx="182" cy="336.5" r="1.7" fill="#154f8a"/>
<circle cx="169.5" cy="339" r="1.7" fill="#154f8a"/>
<circle cx="173.5" cy="338" r="1.7" fill="#154f8a"/>
<circle cx="175" cy="340" r="1.7" fill="#154f8a"/>
<circle cx="176" cy="342" r="1.7" fill="#154f8a"/>
<circle cx="174" cy="344" r="1.7" fill="#154f8a"/>
<circle cx="183.5" cy="344" r="1.7" fill="#154f8a"/>
<circle cx="185.5" cy="344" r="1.7" fill="#154f8a"/>
<circle cx="171.5" cy="349" r="1.7" fill="#154f8a"/>
<circle cx="173.5" cy="348" r="1.7" fill="#154f8a"/>
<circle cx="174" cy="352" r="1.7" fill="#154f8a"/>
<circle cx="174" cy="354" r="1.7" fill="#154f8a"/>
<circle cx="177" cy="339" r="1.7" fill="#154f8a"/>
<path d="M93,273.8 L93,271.6 L176.7,271.6 L176.7,273.8" fill="none" stroke="#333" stroke-width="1.1"/>
<text x="135.00" y="268.60" font-size="7.5" text-anchor="middle" fill="#222" stroke="#222" stroke-width="0.1" font-weight="normal" >ns</text>
<line x1="293.10" y1="239.30" x2="293.10" y2="368.95" stroke="#3a3a3a" stroke-width="1.7" />
<line x1="289.90" y1="368.50" x2="293.10" y2="368.50" stroke="#262626" stroke-width="1.05" />
<text x="287.00" y="370.70" font-size="7.5" text-anchor="end" fill="#222" stroke="#222" stroke-width="0.1" font-weight="normal" >0</text>
<line x1="289.90" y1="327.50" x2="293.10" y2="327.50" stroke="#262626" stroke-width="1.05" />
<text x="287.00" y="329.60" font-size="7.5" text-anchor="end" fill="#222" stroke="#222" stroke-width="0.1" font-weight="normal" >10</text>
<line x1="289.90" y1="285.50" x2="293.10" y2="285.50" stroke="#262626" stroke-width="1.05" />
<text x="287.00" y="288.50" font-size="7.5" text-anchor="end" fill="#222" stroke="#222" stroke-width="0.1" font-weight="normal" >20</text>
<line x1="289.90" y1="244.50" x2="293.10" y2="244.50" stroke="#262626" stroke-width="1.05" />
<text x="287.00" y="247.40" font-size="7.5" text-anchor="end" fill="#222" stroke="#222" stroke-width="0.1" font-weight="normal" >30</text>
<line x1="292.30" y1="368.10" x2="512.00" y2="368.10" stroke="#3a3a3a" stroke-width="1.7" />
<g transform="translate(269.00,303.90) rotate(-90) scale(0.0725,0.1)"><text x="0" y="0" font-size="89.0" text-anchor="middle" fill="#222" stroke="#222" stroke-width="2.8" dominant-baseline="central">Threshold time (min)</text></g>
<rect x="295.30" y="303.16" width="5.6" height="64.94" fill="#c8102e"/>
<line x1="298.10" y1="294.53" x2="298.10" y2="312.20" stroke="#111" stroke-width="1.0" />
<line x1="295.90" y1="294.53" x2="300.30" y2="294.53" stroke="#111" stroke-width="1.2" />
<line x1="295.90" y1="312.20" x2="300.30" y2="312.20" stroke="#111" stroke-width="1.2" />
<line x1="298.10" y1="368.10" x2="298.10" y2="371.10" stroke="#3a3a3a" stroke-width="0.9" />
<text x="298.10" y="380.20" font-size="7.5" text-anchor="middle" fill="#222" stroke="#222" stroke-width="0.1" font-weight="normal" >0</text>
<rect x="301.95" y="333.17" width="5.6" height="34.94" fill="#c8102e"/>
<line x1="304.75" y1="331.11" x2="304.75" y2="335.22" stroke="#111" stroke-width="1.0" />
<line x1="302.55" y1="331.11" x2="306.95" y2="331.11" stroke="#111" stroke-width="1.2" />
<line x1="302.55" y1="335.22" x2="306.95" y2="335.22" stroke="#111" stroke-width="1.2" />
<line x1="304.75" y1="368.10" x2="304.75" y2="371.10" stroke="#3a3a3a" stroke-width="0.9" />
<text x="304.75" y="380.20" font-size="7.5" text-anchor="middle" fill="#222" stroke="#222" stroke-width="0.1" font-weight="normal" >2</text>
<rect x="308.60" y="328.64" width="5.6" height="39.46" fill="#c8102e"/>
<line x1="311.40" y1="328.23" x2="311.40" y2="329.88" stroke="#111" stroke-width="1.0" />
<line x1="309.20" y1="328.23" x2="313.60" y2="328.23" stroke="#111" stroke-width="1.2" />
<line x1="309.20" y1="329.88" x2="313.60" y2="329.88" stroke="#111" stroke-width="1.2" />
<line x1="311.40" y1="368.10" x2="311.40" y2="371.10" stroke="#3a3a3a" stroke-width="0.9" />
<text x="311.40" y="380.20" font-size="7.5" text-anchor="middle" fill="#222" stroke="#222" stroke-width="0.1" font-weight="normal" >8</text>
<line x1="294.40" y1="387.20" x2="315.20" y2="387.20" stroke="#333" stroke-width="1.0" />
<text x="304.80" y="398.30" font-size="7.5" text-anchor="middle" fill="#222" stroke="#222" stroke-width="0.1" font-weight="normal" >25 °C</text>
<rect x="319.54" y="276.04" width="5.6" height="92.06" fill="#134f89"/>
<line x1="322.34" y1="254.25" x2="322.34" y2="296.59" stroke="#111" stroke-width="1.0" />
<line x1="320.14" y1="254.25" x2="324.54" y2="254.25" stroke="#111" stroke-width="1.2" />
<line x1="320.14" y1="296.59" x2="324.54" y2="296.59" stroke="#111" stroke-width="1.2" />
<line x1="322.34" y1="368.10" x2="322.34" y2="371.10" stroke="#3a3a3a" stroke-width="0.9" />
<text x="322.34" y="380.20" font-size="7.5" text-anchor="middle" fill="#222" stroke="#222" stroke-width="0.1" font-weight="normal" >0</text>
<rect x="326.19" y="329.88" width="5.6" height="38.22" fill="#134f89"/>
<line x1="328.99" y1="325.36" x2="328.99" y2="334.40" stroke="#111" stroke-width="1.0" />
<line x1="326.79" y1="325.36" x2="331.19" y2="325.36" stroke="#111" stroke-width="1.2" />
<line x1="326.79" y1="334.40" x2="331.19" y2="334.40" stroke="#111" stroke-width="1.2" />
<line x1="328.99" y1="368.10" x2="328.99" y2="371.10" stroke="#3a3a3a" stroke-width="0.9" />
<text x="328.99" y="380.20" font-size="7.5" text-anchor="middle" fill="#222" stroke="#222" stroke-width="0.1" font-weight="normal" >2</text>
<rect x="332.84" y="323.30" width="5.6" height="44.80" fill="#134f89"/>
<line x1="335.64" y1="319.60" x2="335.64" y2="327.21" stroke="#111" stroke-width="1.0" />
<line x1="333.44" y1="319.60" x2="337.84" y2="319.60" stroke="#111" stroke-width="1.2" />
<line x1="333.44" y1="327.21" x2="337.84" y2="327.21" stroke="#111" stroke-width="1.2" />
<line x1="335.64" y1="368.10" x2="335.64" y2="371.10" stroke="#3a3a3a" stroke-width="0.9" />
<text x="335.64" y="380.20" font-size="7.5" text-anchor="middle" fill="#222" stroke="#222" stroke-width="0.1" font-weight="normal" >8</text>
<line x1="318.64" y1="387.20" x2="339.44" y2="387.20" stroke="#333" stroke-width="1.0" />
<text x="329.04" y="398.30" font-size="7.5" text-anchor="middle" fill="#222" stroke="#222" stroke-width="0.1" font-weight="normal" >4 °C</text>
<rect x="343.78" y="310.97" width="5.6" height="57.13" fill="#3cb44b"/>
<line x1="346.58" y1="302.75" x2="346.58" y2="319.19" stroke="#111" stroke-width="1.0" />
<line x1="344.38" y1="302.75" x2="348.78" y2="302.75" stroke="#111" stroke-width="1.2" />
<line x1="344.38" y1="319.19" x2="348.78" y2="319.19" stroke="#111" stroke-width="1.2" />
<line x1="346.58" y1="368.10" x2="346.58" y2="371.10" stroke="#3a3a3a" stroke-width="0.9" />
<text x="346.58" y="380.20" font-size="7.5" text-anchor="middle" fill="#222" stroke="#222" stroke-width="0.1" font-weight="normal" >0</text>
<rect x="350.43" y="326.18" width="5.6" height="41.92" fill="#3cb44b"/>
<line x1="353.23" y1="322.48" x2="353.23" y2="328.64" stroke="#111" stroke-width="1.0" />
<line x1="351.03" y1="322.48" x2="355.43" y2="322.48" stroke="#111" stroke-width="1.2" />
<line x1="351.03" y1="328.64" x2="355.43" y2="328.64" stroke="#111" stroke-width="1.2" />
<line x1="353.23" y1="368.10" x2="353.23" y2="371.10" stroke="#3a3a3a" stroke-width="0.9" />
<text x="353.23" y="380.20" font-size="7.5" text-anchor="middle" fill="#222" stroke="#222" stroke-width="0.1" font-weight="normal" >2</text>
<rect x="357.08" y="324.12" width="5.6" height="43.98" fill="#3cb44b"/>
<line x1="359.88" y1="319.60" x2="359.88" y2="328.23" stroke="#111" stroke-width="1.0" />
<line x1="357.68" y1="319.60" x2="362.08" y2="319.60" stroke="#111" stroke-width="1.2" />
<line x1="357.68" y1="328.23" x2="362.08" y2="328.23" stroke="#111" stroke-width="1.2" />
<line x1="359.88" y1="368.10" x2="359.88" y2="371.10" stroke="#3a3a3a" stroke-width="0.9" />
<text x="359.88" y="380.20" font-size="7.5" text-anchor="middle" fill="#222" stroke="#222" stroke-width="0.1" font-weight="normal" >8</text>
<line x1="342.88" y1="387.20" x2="363.68" y2="387.20" stroke="#333" stroke-width="1.0" />
<text x="353.28" y="398.30" font-size="7.5" text-anchor="middle" fill="#222" stroke="#222" stroke-width="0.1" font-weight="normal" >−20 °C</text>
<rect x="368.02" y="319.19" width="5.6" height="48.91" fill="#5c2468"/>
<line x1="370.82" y1="316.31" x2="370.82" y2="320.84" stroke="#111" stroke-width="1.0" />
<line x1="368.62" y1="316.31" x2="373.02" y2="316.31" stroke="#111" stroke-width="1.2" />
<line x1="368.62" y1="320.84" x2="373.02" y2="320.84" stroke="#111" stroke-width="1.2" />
<line x1="370.82" y1="368.10" x2="370.82" y2="371.10" stroke="#3a3a3a" stroke-width="0.9" />
<text x="370.82" y="380.20" font-size="7.5" text-anchor="middle" fill="#222" stroke="#222" stroke-width="0.1" font-weight="normal" >0</text>
<rect x="374.67" y="317.14" width="5.6" height="50.96" fill="#5c2468"/>
<line x1="377.47" y1="315.08" x2="377.47" y2="318.37" stroke="#111" stroke-width="1.0" />
<line x1="375.27" y1="315.08" x2="379.67" y2="315.08" stroke="#111" stroke-width="1.2" />
<line x1="375.27" y1="318.37" x2="379.67" y2="318.37" stroke="#111" stroke-width="1.2" />
<line x1="377.47" y1="368.10" x2="377.47" y2="371.10" stroke="#3a3a3a" stroke-width="0.9" />
<text x="377.47" y="380.20" font-size="7.5" text-anchor="middle" fill="#222" stroke="#222" stroke-width="0.1" font-weight="normal" >2</text>
<rect x="381.32" y="308.50" width="5.6" height="59.60" fill="#5c2468"/>
<line x1="384.12" y1="305.63" x2="384.12" y2="310.56" stroke="#111" stroke-width="1.0" />
<line x1="381.92" y1="305.63" x2="386.32" y2="305.63" stroke="#111" stroke-width="1.2" />
<line x1="381.92" y1="310.56" x2="386.32" y2="310.56" stroke="#111" stroke-width="1.2" />
<line x1="384.12" y1="368.10" x2="384.12" y2="371.10" stroke="#3a3a3a" stroke-width="0.9" />
<text x="384.12" y="380.20" font-size="7.5" text-anchor="middle" fill="#222" stroke="#222" stroke-width="0.1" font-weight="normal" >8</text>
<line x1="367.12" y1="387.20" x2="387.92" y2="387.20" stroke="#333" stroke-width="1.0" />
<text x="377.52" y="398.30" font-size="7.5" text-anchor="middle" fill="#222" stroke="#222" stroke-width="0.1" font-weight="normal" >25 °C</text>
<rect x="392.26" y="319.60" width="5.6" height="48.50" fill="#ff9200"/>
<line x1="395.06" y1="316.31" x2="395.06" y2="321.66" stroke="#111" stroke-width="1.0" />
<line x1="392.86" y1="316.31" x2="397.26" y2="316.31" stroke="#111" stroke-width="1.2" />
<line x1="392.86" y1="321.66" x2="397.26" y2="321.66" stroke="#111" stroke-width="1.2" />
<line x1="395.06" y1="368.10" x2="395.06" y2="371.10" stroke="#3a3a3a" stroke-width="0.9" />
<text x="395.06" y="380.20" font-size="7.5" text-anchor="middle" fill="#222" stroke="#222" stroke-width="0.1" font-weight="normal" >0</text>
<rect x="398.91" y="322.89" width="5.6" height="45.21" fill="#ff9200"/>
<line x1="401.71" y1="319.60" x2="401.71" y2="325.36" stroke="#111" stroke-width="1.0" />
<line x1="399.51" y1="319.60" x2="403.91" y2="319.60" stroke="#111" stroke-width="1.2" />
<line x1="399.51" y1="325.36" x2="403.91" y2="325.36" stroke="#111" stroke-width="1.2" />
<line x1="401.71" y1="368.10" x2="401.71" y2="371.10" stroke="#3a3a3a" stroke-width="0.9" />
<text x="401.71" y="380.20" font-size="7.5" text-anchor="middle" fill="#222" stroke="#222" stroke-width="0.1" font-weight="normal" >2</text>
<rect x="405.56" y="318.37" width="5.6" height="49.73" fill="#ff9200"/>
<line x1="408.36" y1="306.86" x2="408.36" y2="329.06" stroke="#111" stroke-width="1.0" />
<line x1="406.16" y1="306.86" x2="410.56" y2="306.86" stroke="#111" stroke-width="1.2" />
<line x1="406.16" y1="329.06" x2="410.56" y2="329.06" stroke="#111" stroke-width="1.2" />
<line x1="408.36" y1="368.10" x2="408.36" y2="371.10" stroke="#3a3a3a" stroke-width="0.9" />
<text x="408.36" y="380.20" font-size="7.5" text-anchor="middle" fill="#222" stroke="#222" stroke-width="0.1" font-weight="normal" >8</text>
<line x1="391.36" y1="387.20" x2="412.16" y2="387.20" stroke="#333" stroke-width="1.0" />
<text x="401.76" y="398.30" font-size="7.5" text-anchor="middle" fill="#222" stroke="#222" stroke-width="0.1" font-weight="normal" >4 °C</text>
<rect x="416.50" y="319.81" width="5.6" height="48.29" fill="#134f89"/>
<line x1="419.30" y1="317.14" x2="419.30" y2="321.25" stroke="#111" stroke-width="1.0" />
<line x1="417.10" y1="317.14" x2="421.50" y2="317.14" stroke="#111" stroke-width="1.2" />
<line x1="417.10" y1="321.25" x2="421.50" y2="321.25" stroke="#111" stroke-width="1.2" />
<line x1="419.30" y1="368.10" x2="419.30" y2="371.10" stroke="#3a3a3a" stroke-width="0.9" />
<text x="419.30" y="380.20" font-size="7.5" text-anchor="middle" fill="#222" stroke="#222" stroke-width="0.1" font-weight="normal" >0</text>
<rect x="423.15" y="323.71" width="5.6" height="44.39" fill="#134f89"/>
<line x1="425.95" y1="322.48" x2="425.95" y2="324.53" stroke="#111" stroke-width="1.0" />
<line x1="423.75" y1="322.48" x2="428.15" y2="322.48" stroke="#111" stroke-width="1.2" />
<line x1="423.75" y1="324.53" x2="428.15" y2="324.53" stroke="#111" stroke-width="1.2" />
<line x1="425.95" y1="368.10" x2="425.95" y2="371.10" stroke="#3a3a3a" stroke-width="0.9" />
<text x="425.95" y="380.20" font-size="7.5" text-anchor="middle" fill="#222" stroke="#222" stroke-width="0.1" font-weight="normal" >2</text>
<rect x="429.80" y="313.85" width="5.6" height="54.25" fill="#134f89"/>
<line x1="432.60" y1="307.68" x2="432.60" y2="319.19" stroke="#111" stroke-width="1.0" />
<line x1="430.40" y1="307.68" x2="434.80" y2="307.68" stroke="#111" stroke-width="1.2" />
<line x1="430.40" y1="319.19" x2="434.80" y2="319.19" stroke="#111" stroke-width="1.2" />
<line x1="432.60" y1="368.10" x2="432.60" y2="371.10" stroke="#3a3a3a" stroke-width="0.9" />
<text x="432.60" y="380.20" font-size="7.5" text-anchor="middle" fill="#222" stroke="#222" stroke-width="0.1" font-weight="normal" >8</text>
<line x1="415.60" y1="387.20" x2="436.40" y2="387.20" stroke="#333" stroke-width="1.0" />
<text x="426.00" y="398.30" font-size="7.5" text-anchor="middle" fill="#222" stroke="#222" stroke-width="0.1" font-weight="normal" >−20 °C</text>
<rect x="440.74" y="306.86" width="5.6" height="61.24" fill="#ff9200"/>
<line x1="443.54" y1="305.22" x2="443.54" y2="308.50" stroke="#111" stroke-width="1.0" />
<line x1="441.34" y1="305.22" x2="445.74" y2="305.22" stroke="#111" stroke-width="1.2" />
<line x1="441.34" y1="308.50" x2="445.74" y2="308.50" stroke="#111" stroke-width="1.2" />
<line x1="443.54" y1="368.10" x2="443.54" y2="371.10" stroke="#3a3a3a" stroke-width="0.9" />
<text x="443.54" y="380.20" font-size="7.5" text-anchor="middle" fill="#222" stroke="#222" stroke-width="0.1" font-weight="normal" >0</text>
<rect x="447.39" y="313.03" width="5.6" height="55.07" fill="#ff9200"/>
<line x1="450.19" y1="306.45" x2="450.19" y2="318.78" stroke="#111" stroke-width="1.0" />
<line x1="447.99" y1="306.45" x2="452.39" y2="306.45" stroke="#111" stroke-width="1.2" />
<line x1="447.99" y1="318.78" x2="452.39" y2="318.78" stroke="#111" stroke-width="1.2" />
<line x1="450.19" y1="368.10" x2="450.19" y2="371.10" stroke="#3a3a3a" stroke-width="0.9" />
<text x="450.19" y="380.20" font-size="7.5" text-anchor="middle" fill="#222" stroke="#222" stroke-width="0.1" font-weight="normal" >2</text>
<rect x="454.04" y="292.48" width="5.6" height="75.62" fill="#ff9200"/>
<line x1="456.84" y1="273.16" x2="456.84" y2="310.97" stroke="#111" stroke-width="1.0" />
<line x1="454.64" y1="273.16" x2="459.04" y2="273.16" stroke="#111" stroke-width="1.2" />
<line x1="454.64" y1="310.97" x2="459.04" y2="310.97" stroke="#111" stroke-width="1.2" />
<line x1="456.84" y1="368.10" x2="456.84" y2="371.10" stroke="#3a3a3a" stroke-width="0.9" />
<text x="456.84" y="380.20" font-size="7.5" text-anchor="middle" fill="#222" stroke="#222" stroke-width="0.1" font-weight="normal" >8</text>
<line x1="439.84" y1="387.20" x2="460.64" y2="387.20" stroke="#333" stroke-width="1.0" />
<text x="450.24" y="398.30" font-size="7.5" text-anchor="middle" fill="#222" stroke="#222" stroke-width="0.1" font-weight="normal" >25 °C</text>
<rect x="464.98" y="311.59" width="5.6" height="56.51" fill="#0c6c4f"/>
<line x1="467.78" y1="310.15" x2="467.78" y2="312.20" stroke="#111" stroke-width="1.0" />
<line x1="465.58" y1="310.15" x2="469.98" y2="310.15" stroke="#111" stroke-width="1.2" />
<line x1="465.58" y1="312.20" x2="469.98" y2="312.20" stroke="#111" stroke-width="1.2" />
<line x1="467.78" y1="368.10" x2="467.78" y2="371.10" stroke="#3a3a3a" stroke-width="0.9" />
<text x="467.78" y="380.20" font-size="7.5" text-anchor="middle" fill="#222" stroke="#222" stroke-width="0.1" font-weight="normal" >0</text>
<rect x="471.63" y="329.88" width="5.6" height="38.22" fill="#0c6c4f"/>
<line x1="474.43" y1="300.70" x2="474.43" y2="357.00" stroke="#111" stroke-width="1.0" />
<line x1="472.23" y1="300.70" x2="476.63" y2="300.70" stroke="#111" stroke-width="1.2" />
<line x1="472.23" y1="357.00" x2="476.63" y2="357.00" stroke="#111" stroke-width="1.2" />
<line x1="474.43" y1="368.10" x2="474.43" y2="371.10" stroke="#3a3a3a" stroke-width="0.9" />
<text x="474.43" y="380.20" font-size="7.5" text-anchor="middle" fill="#222" stroke="#222" stroke-width="0.1" font-weight="normal" >2</text>
<rect x="478.28" y="287.96" width="5.6" height="80.14" fill="#0c6c4f"/>
<line x1="481.08" y1="261.65" x2="481.08" y2="313.44" stroke="#111" stroke-width="1.0" />
<line x1="478.88" y1="261.65" x2="483.28" y2="261.65" stroke="#111" stroke-width="1.2" />
<line x1="478.88" y1="313.44" x2="483.28" y2="313.44" stroke="#111" stroke-width="1.2" />
<line x1="481.08" y1="368.10" x2="481.08" y2="371.10" stroke="#3a3a3a" stroke-width="0.9" />
<text x="481.08" y="380.20" font-size="7.5" text-anchor="middle" fill="#222" stroke="#222" stroke-width="0.1" font-weight="normal" >8</text>
<line x1="464.08" y1="387.20" x2="484.88" y2="387.20" stroke="#333" stroke-width="1.0" />
<text x="474.48" y="398.30" font-size="7.5" text-anchor="middle" fill="#222" stroke="#222" stroke-width="0.1" font-weight="normal" >4 °C</text>
<rect x="489.22" y="306.86" width="5.6" height="61.24" fill="#134f89"/>
<line x1="492.02" y1="301.93" x2="492.02" y2="311.38" stroke="#111" stroke-width="1.0" />
<line x1="489.82" y1="301.93" x2="494.22" y2="301.93" stroke="#111" stroke-width="1.2" />
<line x1="489.82" y1="311.38" x2="494.22" y2="311.38" stroke="#111" stroke-width="1.2" />
<line x1="492.02" y1="368.10" x2="492.02" y2="371.10" stroke="#3a3a3a" stroke-width="0.9" />
<text x="492.02" y="380.20" font-size="7.5" text-anchor="middle" fill="#222" stroke="#222" stroke-width="0.1" font-weight="normal" >0</text>
<rect x="495.87" y="303.16" width="5.6" height="64.94" fill="#134f89"/>
<line x1="498.67" y1="301.31" x2="498.67" y2="304.40" stroke="#111" stroke-width="1.0" />
<line x1="496.47" y1="301.31" x2="500.87" y2="301.31" stroke="#111" stroke-width="1.2" />
<line x1="496.47" y1="304.40" x2="500.87" y2="304.40" stroke="#111" stroke-width="1.2" />
<line x1="498.67" y1="368.10" x2="498.67" y2="371.10" stroke="#3a3a3a" stroke-width="0.9" />
<text x="498.67" y="380.20" font-size="7.5" text-anchor="middle" fill="#222" stroke="#222" stroke-width="0.1" font-weight="normal" >2</text>
<rect x="502.52" y="310.97" width="5.6" height="57.13" fill="#134f89"/>
<line x1="505.32" y1="307.68" x2="505.32" y2="313.03" stroke="#111" stroke-width="1.0" />
<line x1="503.12" y1="307.68" x2="507.52" y2="307.68" stroke="#111" stroke-width="1.2" />
<line x1="503.12" y1="313.03" x2="507.52" y2="313.03" stroke="#111" stroke-width="1.2" />
<line x1="505.32" y1="368.10" x2="505.32" y2="371.10" stroke="#3a3a3a" stroke-width="0.9" />
<text x="505.32" y="380.20" font-size="7.5" text-anchor="middle" fill="#222" stroke="#222" stroke-width="0.1" font-weight="normal" >8</text>
<line x1="488.32" y1="387.20" x2="509.12" y2="387.20" stroke="#333" stroke-width="1.0" />
<text x="498.72" y="398.30" font-size="7.5" text-anchor="middle" fill="#222" stroke="#222" stroke-width="0.1" font-weight="normal" >−20 °C</text>
<line x1="294.30" y1="403.80" x2="363.78" y2="403.80" stroke="#333" stroke-width="1.0" />
<text x="329.04" y="414.60" font-size="7.5" text-anchor="middle" fill="#222" stroke="#222" stroke-width="0.1" font-weight="normal" >Raji</text>
<line x1="367.02" y1="403.80" x2="436.50" y2="403.80" stroke="#333" stroke-width="1.0" />
<text x="401.76" y="414.60" font-size="7.5" text-anchor="middle" fill="#222" stroke="#222" stroke-width="0.1" font-weight="normal" >Mutu III</text>
<line x1="439.74" y1="403.80" x2="509.22" y2="403.80" stroke="#333" stroke-width="1.0" />
<text x="474.48" y="414.60" font-size="7.5" text-anchor="middle" fill="#222" stroke="#222" stroke-width="0.1" font-weight="normal" >Nalamwa</text>
<g transform="translate(401.30,426.90) scale(0.0790,0.1)"><text x="0" y="0" font-size="82.0" text-anchor="middle" fill="#222" stroke="#222" stroke-width="3.2">Weeks in cells-to-LAMP buffer</text></g>
<line x1="41.10" y1="455.50" x2="41.10" y2="623.75" stroke="#3a3a3a" stroke-width="1.7" />
<line x1="37.90" y1="622.50" x2="41.10" y2="622.50" stroke="#262626" stroke-width="1.05" />
<text x="35.00" y="625.50" font-size="7.5" text-anchor="end" fill="#222" stroke="#222" stroke-width="0.1" font-weight="normal" >5</text>
<line x1="37.90" y1="583.50" x2="41.10" y2="583.50" stroke="#262626" stroke-width="1.05" />
<text x="35.00" y="585.73" font-size="7.5" text-anchor="end" fill="#222" stroke="#222" stroke-width="0.1" font-weight="normal" >10</text>
<line x1="37.90" y1="543.50" x2="41.10" y2="543.50" stroke="#262626" stroke-width="1.05" />
<text x="35.00" y="545.95" font-size="7.5" text-anchor="end" fill="#222" stroke="#222" stroke-width="0.1" font-weight="normal" >15</text>
<line x1="37.90" y1="503.50" x2="41.10" y2="503.50" stroke="#262626" stroke-width="1.05" />
<text x="35.00" y="506.18" font-size="7.5" text-anchor="end" fill="#222" stroke="#222" stroke-width="0.1" font-weight="normal" >20</text>
<line x1="37.90" y1="463.50" x2="41.10" y2="463.50" stroke="#262626" stroke-width="1.05" />
<text x="35.00" y="466.40" font-size="7.5" text-anchor="end" fill="#222" stroke="#222" stroke-width="0.1" font-weight="normal" >25</text>
<line x1="40.30" y1="622.90" x2="228.90" y2="622.90" stroke="#3a3a3a" stroke-width="1.7" />
<g transform="translate(19.90,538.90) rotate(-90) scale(0.0725,0.1)"><text x="0" y="0" font-size="89.0" text-anchor="middle" fill="#222" stroke="#222" stroke-width="2.8" dominant-baseline="central">Threshold time (min)</text></g>
<line x1="70.40" y1="622.90" x2="70.40" y2="625.40" stroke="#3a3a3a" stroke-width="1" />
<text x="70.40" y="634.30" font-size="7.6" text-anchor="middle" fill="#222" stroke="#222" stroke-width="0.1" font-weight="normal" >AB7500</text>
<line x1="113.70" y1="622.90" x2="113.70" y2="625.40" stroke="#3a3a3a" stroke-width="1" />
<text x="113.70" y="634.30" font-size="7.6" text-anchor="middle" fill="#222" stroke="#222" stroke-width="0.1" font-weight="normal" >TINY</text>
<line x1="158.00" y1="622.90" x2="158.00" y2="625.40" stroke="#3a3a3a" stroke-width="1" />
<text x="158.00" y="634.30" font-size="7.6" text-anchor="middle" fill="#222" stroke="#222" stroke-width="0.1" font-weight="normal" >AB7500</text>
<line x1="201.90" y1="622.90" x2="201.90" y2="625.40" stroke="#3a3a3a" stroke-width="1" />
<text x="201.90" y="634.30" font-size="7.6" text-anchor="middle" fill="#222" stroke="#222" stroke-width="0.1" font-weight="normal" >TINY</text>
<line x1="51.90" y1="637.30" x2="125.00" y2="637.30" stroke="#333" stroke-width="1.0" />
<line x1="140.30" y1="637.30" x2="213.30" y2="637.30" stroke="#333" stroke-width="1.0" />
<text x="88.5" y="648" font-size="7.6" text-anchor="middle" fill="#222" stroke="#222" stroke-width="0.2">10 × 10<tspan font-size="5.6" dy="-3">6</tspan><tspan dy="3"> cells</tspan></text>
<text x="177.00" y="648.00" font-size="7.6" text-anchor="middle" fill="#222" stroke="#222" stroke-width="0.1" font-weight="normal" >50 cells</text>
<path d="M70.8,574.7 L70.8,546.4 L115.4,546.4 L115.4,563.2" fill="none" stroke="#333" stroke-width="1.1"/>
<path d="M157.2,512.9 L157.2,496.8 L202.2,496.8 L202.2,508.6" fill="none" stroke="#333" stroke-width="1.1"/>
<text x="92.5" y="541.8" font-size="7.6" text-anchor="middle" fill="#222" stroke="#222" stroke-width="0.2">Δ<tspan font-size="5" dy="1.8">mean</tspan><tspan dy="-1.8"> = 1.5 min</tspan></text>
<text x="179.5" y="492.5" font-size="7.6" text-anchor="middle" fill="#222" stroke="#222" stroke-width="0.2">Δ<tspan font-size="5" dy="1.8">mean</tspan><tspan dy="-1.8"> = 1.3 min</tspan></text>
<line x1="55.00" y1="584.40" x2="85.00" y2="584.40" stroke="#222" stroke-width="1.3" />
<rect x="65.6" y="582.6" width="9" height="3.6" fill="none" stroke="#222" stroke-width="0.9"/>
<path d="M55.9,584.9 L58,581.1999999999999 L60.1,584.9 Z" fill="#c8102e"/>
<circle cx="63.2" cy="584.4" r="1.85" fill="#c8102e"/>
<circle cx="67.8" cy="584.6" r="1.85" fill="#c8102e"/>
<circle cx="72.8" cy="584.6" r="1.85" fill="#c8102e"/>
<circle cx="77.5" cy="584.4" r="1.85" fill="#c8102e"/>
<path d="M80.30000000000001,584.9 L82.4,581.1999999999999 L84.5,584.9 Z" fill="#c8102e"/>
<line x1="99.60" y1="572.70" x2="128.80" y2="572.70" stroke="#222" stroke-width="1.3" />
<line x1="109.60" y1="571.20" x2="118.00" y2="571.20" stroke="#222" stroke-width="1.2" />
<line x1="109.60" y1="573.70" x2="118.00" y2="573.70" stroke="#222" stroke-width="1.2" />
<line x1="113.80" y1="571.20" x2="113.80" y2="573.70" stroke="#222" stroke-width="1" />
<rect x="100.1" y="570.1999999999999" width="3.4" height="3.4" fill="#154f8a"/>
<rect x="104.7" y="570.8" width="3.4" height="3.4" fill="#154f8a"/>
<rect x="109.6" y="574.0999999999999" width="3.4" height="3.4" fill="#154f8a"/>
<rect x="114.7" y="572.5" width="3.4" height="3.4" fill="#154f8a"/>
<rect x="119.8" y="570.0999999999999" width="3.4" height="3.4" fill="#154f8a"/>
<rect x="124.5" y="569.8" width="3.4" height="3.4" fill="#154f8a"/>
<line x1="143.30" y1="536.80" x2="172.20" y2="536.80" stroke="#222" stroke-width="1.3" />
<line x1="157.50" y1="526.70" x2="157.50" y2="547.50" stroke="#222" stroke-width="1.1" />
<line x1="152.30" y1="526.70" x2="162.70" y2="526.70" stroke="#222" stroke-width="1.3" />
<line x1="152.30" y1="547.50" x2="162.70" y2="547.50" stroke="#222" stroke-width="1.3" />
<circle cx="157.5" cy="518.9" r="1.8" fill="#c8102e"/>
<circle cx="160.6" cy="534.2" r="1.8" fill="#c8102e"/>
<circle cx="154.9" cy="535.4" r="1.8" fill="#c8102e"/>
<circle cx="157.5" cy="542" r="1.8" fill="#c8102e"/>
<circle cx="161" cy="543.2" r="1.8" fill="#c8102e"/>
<circle cx="154.9" cy="548.4" r="1.8" fill="#c8102e"/>
<line x1="186.90" y1="528.50" x2="216.30" y2="528.50" stroke="#222" stroke-width="1.3" />
<line x1="201.60" y1="519.80" x2="201.60" y2="536.80" stroke="#222" stroke-width="1.1" />
<line x1="197.30" y1="519.80" x2="206.30" y2="519.80" stroke="#222" stroke-width="1.3" />
<line x1="197.30" y1="536.80" x2="206.30" y2="536.80" stroke="#222" stroke-width="1.3" />
<rect x="199.5" y="513.8" width="3.4" height="3.4" fill="#154f8a"/>
<rect x="202.5" y="522.4" width="3.4" height="3.4" fill="#154f8a"/>
<rect x="194.10000000000002" y="525.4" width="3.4" height="3.4" fill="#154f8a"/>
<rect x="197.3" y="527.5999999999999" width="3.4" height="3.4" fill="#154f8a"/>
<rect x="202.8" y="531.5999999999999" width="3.4" height="3.4" fill="#154f8a"/>
<rect x="199.5" y="538.9" width="3.4" height="3.4" fill="#154f8a"/>
<line x1="293.00" y1="459.20" x2="293.00" y2="623.75" stroke="#3a3a3a" stroke-width="1.7" />
<line x1="289.80" y1="622.50" x2="293.00" y2="622.50" stroke="#262626" stroke-width="1.05" />
<text x="287.00" y="625.50" font-size="7.5" text-anchor="end" fill="#222" stroke="#222" stroke-width="0.1" font-weight="normal" >5</text>
<line x1="289.80" y1="592.50" x2="293.00" y2="592.50" stroke="#262626" stroke-width="1.05" />
<text x="287.00" y="594.90" font-size="7.5" text-anchor="end" fill="#222" stroke="#222" stroke-width="0.1" font-weight="normal" >10</text>
<line x1="289.80" y1="561.50" x2="293.00" y2="561.50" stroke="#262626" stroke-width="1.05" />
<text x="287.00" y="564.30" font-size="7.5" text-anchor="end" fill="#222" stroke="#222" stroke-width="0.1" font-weight="normal" >15</text>
<line x1="289.80" y1="531.50" x2="293.00" y2="531.50" stroke="#262626" stroke-width="1.05" />
<text x="287.00" y="533.70" font-size="7.5" text-anchor="end" fill="#222" stroke="#222" stroke-width="0.1" font-weight="normal" >20</text>
<line x1="289.80" y1="500.50" x2="293.00" y2="500.50" stroke="#262626" stroke-width="1.05" />
<text x="287.00" y="503.10" font-size="7.5" text-anchor="end" fill="#222" stroke="#222" stroke-width="0.1" font-weight="normal" >25</text>
<line x1="289.80" y1="469.50" x2="293.00" y2="469.50" stroke="#262626" stroke-width="1.05" />
<text x="287.00" y="472.50" font-size="7.5" text-anchor="end" fill="#222" stroke="#222" stroke-width="0.1" font-weight="normal" >30</text>
<line x1="292.20" y1="622.90" x2="477.10" y2="622.90" stroke="#3a3a3a" stroke-width="1.7" />
<g transform="translate(269.40,540.80) rotate(-90) scale(0.0725,0.1)"><text x="0" y="0" font-size="89.0" text-anchor="middle" fill="#222" stroke="#222" stroke-width="2.8" dominant-baseline="central">Threshold time (min)</text></g>
<line x1="307.10" y1="622.90" x2="307.10" y2="625.50" stroke="#3a3a3a" stroke-width="1" />
<g transform="translate(307.70,630.00) rotate(-45)"><text x="0" y="0" font-size="8" text-anchor="end" fill="#222" stroke="#222" stroke-width="0.2" dominant-baseline="central">Ramos</text></g>
<line x1="329.10" y1="622.90" x2="329.10" y2="625.50" stroke="#3a3a3a" stroke-width="1" />
<g transform="translate(329.70,630.00) rotate(-45)"><text x="0" y="0" font-size="8" text-anchor="end" fill="#222" stroke="#222" stroke-width="0.2" dominant-baseline="central">SU-DHL-6</text></g>
<line x1="350.80" y1="622.90" x2="350.80" y2="625.50" stroke="#3a3a3a" stroke-width="1" />
<g transform="translate(351.40,630.00) rotate(-45)"><text x="0" y="0" font-size="8" text-anchor="end" fill="#222" stroke="#222" stroke-width="0.2" dominant-baseline="central">DoHH2</text></g>
<line x1="372.40" y1="622.90" x2="372.40" y2="625.50" stroke="#3a3a3a" stroke-width="1" />
<g transform="translate(373.00,630.00) rotate(-45)"><text x="0" y="0" font-size="8" text-anchor="end" fill="#222" stroke="#222" stroke-width="0.2" dominant-baseline="central">Rael</text></g>
<line x1="394.30" y1="622.90" x2="394.30" y2="625.50" stroke="#3a3a3a" stroke-width="1" />
<g transform="translate(394.90,630.00) rotate(-45)"><text x="0" y="0" font-size="8" text-anchor="end" fill="#222" stroke="#222" stroke-width="0.2" dominant-baseline="central">Mutu-III</text></g>
<line x1="416.00" y1="622.90" x2="416.00" y2="625.50" stroke="#3a3a3a" stroke-width="1" />
<g transform="translate(416.60,630.00) rotate(-45)"><text x="0" y="0" font-size="8" text-anchor="end" fill="#222" stroke="#222" stroke-width="0.2" dominant-baseline="central">Kem-III</text></g>
<line x1="437.90" y1="622.90" x2="437.90" y2="625.50" stroke="#3a3a3a" stroke-width="1" />
<g transform="translate(438.50,630.00) rotate(-45)"><text x="0" y="0" font-size="8" text-anchor="end" fill="#222" stroke="#222" stroke-width="0.2" dominant-baseline="central">Mutu-I</text></g>
<line x1="459.60" y1="622.90" x2="459.60" y2="625.50" stroke="#3a3a3a" stroke-width="1" />
<g transform="translate(460.20,630.00) rotate(-45)"><text x="0" y="0" font-size="8" text-anchor="end" fill="#222" stroke="#222" stroke-width="0.2" dominant-baseline="central">Raji</text></g>
<text x="307.60" y="601.40" font-size="7.5" text-anchor="middle" fill="#222" stroke="#222" stroke-width="0.1" font-weight="normal" >NA</text>
<text x="329.60" y="601.40" font-size="7.5" text-anchor="middle" fill="#222" stroke="#222" stroke-width="0.1" font-weight="normal" >NA</text>
<text x="351.30" y="601.40" font-size="7.5" text-anchor="middle" fill="#222" stroke="#222" stroke-width="0.1" font-weight="normal" >NA</text>
<line x1="291.60" y1="660.50" x2="353.70" y2="660.50" stroke="#333" stroke-width="1.0" />
<line x1="358.60" y1="660.50" x2="475.80" y2="660.50" stroke="#333" stroke-width="1.0" />
<text x="322.70" y="670.60" font-size="7.5" text-anchor="middle" fill="#222" stroke="#222" stroke-width="0.1" font-weight="normal" >EBV-negative</text>
<text x="417.00" y="670.60" font-size="7.5" text-anchor="middle" fill="#222" stroke="#222" stroke-width="0.1" font-weight="normal" >EBV-positive</text>
<circle cx="367.8" cy="578.2" r="1.85" fill="#c8102e"/>
<circle cx="372.5" cy="580.6" r="1.85" fill="#c8102e"/>
<circle cx="377.3" cy="578.6" r="1.85" fill="#c8102e"/>
<line x1="365.40" y1="579.10" x2="379.40" y2="579.10" stroke="#222" stroke-width="1.3" />
<circle cx="394.6" cy="563" r="1.85" fill="#c8102e"/>
<circle cx="392" cy="576" r="1.85" fill="#c8102e"/>
<circle cx="397.2" cy="574.7" r="1.85" fill="#c8102e"/>
<line x1="387.40" y1="571.30" x2="401.40" y2="571.30" stroke="#222" stroke-width="1.3" />
<line x1="394.40" y1="564.20" x2="394.40" y2="578.20" stroke="#222" stroke-width="1.0" />
<line x1="390.10" y1="564.20" x2="398.70" y2="564.20" stroke="#222" stroke-width="1.2" />
<line x1="390.10" y1="578.20" x2="398.70" y2="578.20" stroke="#222" stroke-width="1.2" />
<circle cx="411.9" cy="584.3" r="1.85" fill="#c8102e"/>
<circle cx="416.2" cy="587.7" r="1.85" fill="#c8102e"/>
<circle cx="420.6" cy="586.7" r="1.85" fill="#c8102e"/>
<line x1="409.00" y1="586.30" x2="423.00" y2="586.30" stroke="#222" stroke-width="1.3" />
<circle cx="438.3" cy="584.3" r="1.85" fill="#c8102e"/>
<circle cx="435.6" cy="591" r="1.85" fill="#c8102e"/>
<circle cx="441" cy="589.5" r="1.85" fill="#c8102e"/>
<line x1="431.00" y1="588.10" x2="445.00" y2="588.10" stroke="#222" stroke-width="1.3" />
<line x1="438.00" y1="585.10" x2="438.00" y2="591.50" stroke="#222" stroke-width="1.0" />
<line x1="433.70" y1="585.10" x2="442.30" y2="585.10" stroke="#222" stroke-width="1.2" />
<line x1="433.70" y1="591.50" x2="442.30" y2="591.50" stroke="#222" stroke-width="1.2" />
<circle cx="455.2" cy="586.3" r="1.85" fill="#c8102e"/>
<circle cx="459.4" cy="588" r="1.85" fill="#c8102e"/>
<circle cx="464.4" cy="586.3" r="1.85" fill="#c8102e"/>
<line x1="452.60" y1="587.00" x2="466.60" y2="587.00" stroke="#222" stroke-width="1.3" />
<text x="6.90" y="15.00" font-size="10.8" text-anchor="start" fill="#000" stroke="#000" stroke-width="0.1" font-weight="bold" >A</text>
<text x="256.20" y="15.40" font-size="10.8" text-anchor="start" fill="#000" stroke="#000" stroke-width="0.1" font-weight="bold" >B</text>
<text x="6.90" y="228.80" font-size="10.8" text-anchor="start" fill="#000" stroke="#000" stroke-width="0.1" font-weight="bold" >C</text>
<text x="255.80" y="229.20" font-size="10.8" text-anchor="start" fill="#000" stroke="#000" stroke-width="0.1" font-weight="bold" >D</text>
<text x="7.80" y="447.10" font-size="10.8" text-anchor="start" fill="#000" stroke="#000" stroke-width="0.1" font-weight="bold" >E</text>
<text x="255.80" y="447.10" font-size="10.8" text-anchor="start" fill="#000" stroke="#000" stroke-width="0.1" font-weight="bold" >F</text>
<rect x="0.6" y="0.6" width="518.8" height="677.8" fill="none" stroke="#000" stroke-width="1.2"/>
</svg>
</body></html>
